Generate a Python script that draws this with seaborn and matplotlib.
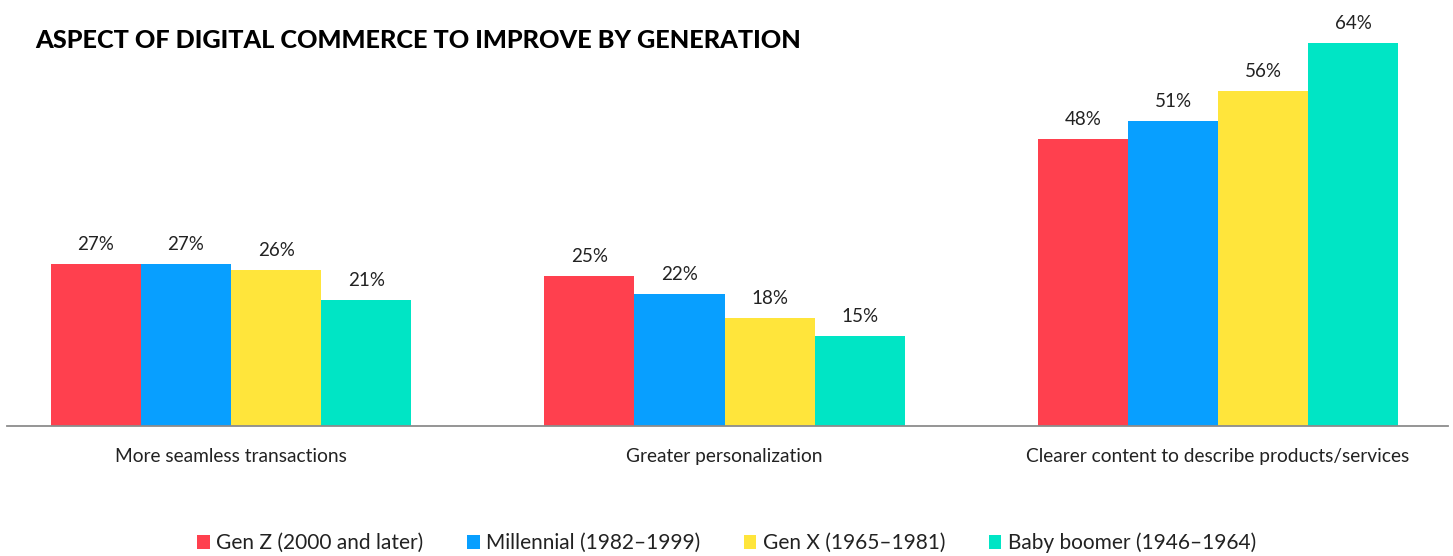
import matplotlib
matplotlib.use("Agg")
import matplotlib.pyplot as plt
import seaborn as sns
import pandas as pd
from matplotlib.patches import Patch

categories = ["More seamless transactions", "Greater personalization",
              "Clearer content to describe products/services"]
generations = ["Gen Z (2000 and later)", "Millennial (1982\u20131999)",
               "Gen X (1965\u20131981)", "Baby boomer (1946\u20131964)"]
gen_z = [27, 25, 48]
millennial = [27, 22, 51]
gen_x = [26, 18, 56]
boomer = [21, 15, 64]
colors = ["#FF404E", "#089FFF", "#FFE53B", "#00E5C5"]

series = [gen_z, millennial, gen_x, boomer]
rows = []
for g, vals in zip(generations, series):
    for c, v in zip(categories, vals):
        rows.append({"aspect": c, "gen": g, "value": v})
df = pd.DataFrame(rows)

sns.set_theme(style="white")
plt.rcParams["font.family"] = ["Lato", "DejaVu Sans"]

fig = plt.figure(figsize=(14.53, 5.56), dpi=100)
ax = fig.add_axes([7/1453, 1-426/556, (1448-7)/1453, (426-43)/556])

sns.barplot(data=df, x="aspect", y="value", hue="gen", palette=colors,
            width=0.73, saturation=1, ax=ax, legend=False, order=categories,
            hue_order=generations, linewidth=0, edgecolor="none")

for cont, vals in zip(ax.containers, series):
    ax.bar_label(cont, labels=[f"{v}%" for v in vals], padding=8,
                 fontsize=13.5, color="#222222")

ax.set_ylim(0, 64)
ax.set_xlim(-0.454, 2.466)
for s in ["top", "left", "right"]:
    ax.spines[s].set_visible(False)
ax.spines["bottom"].set_color("#8c8c8c")
ax.spines["bottom"].set_linewidth(1.3)
ax.set_yticks([])
ax.set_xlabel("")
ax.set_ylabel("")
ax.tick_params(axis="x", length=0, pad=16, labelsize=13.8, labelcolor="#222222")

fig.text(35/1453, 1-41/556, "ASPECT OF DIGITAL COMMERCE TO IMPROVE BY GENERATION",
         fontsize=18.2, fontweight="black", color="black", va="center", ha="left")

handles = [Patch(facecolor=c, edgecolor="none") for c in colors]
fig.legend(handles, generations, loc="center", bbox_to_anchor=(0.5, 1-543/556),
           ncol=4, frameon=False, fontsize=15, handlelength=0.6, handleheight=0.6,
           handletextpad=0.3, columnspacing=2.1, labelcolor="#222222")

fig.savefig("out.png", dpi=100)
